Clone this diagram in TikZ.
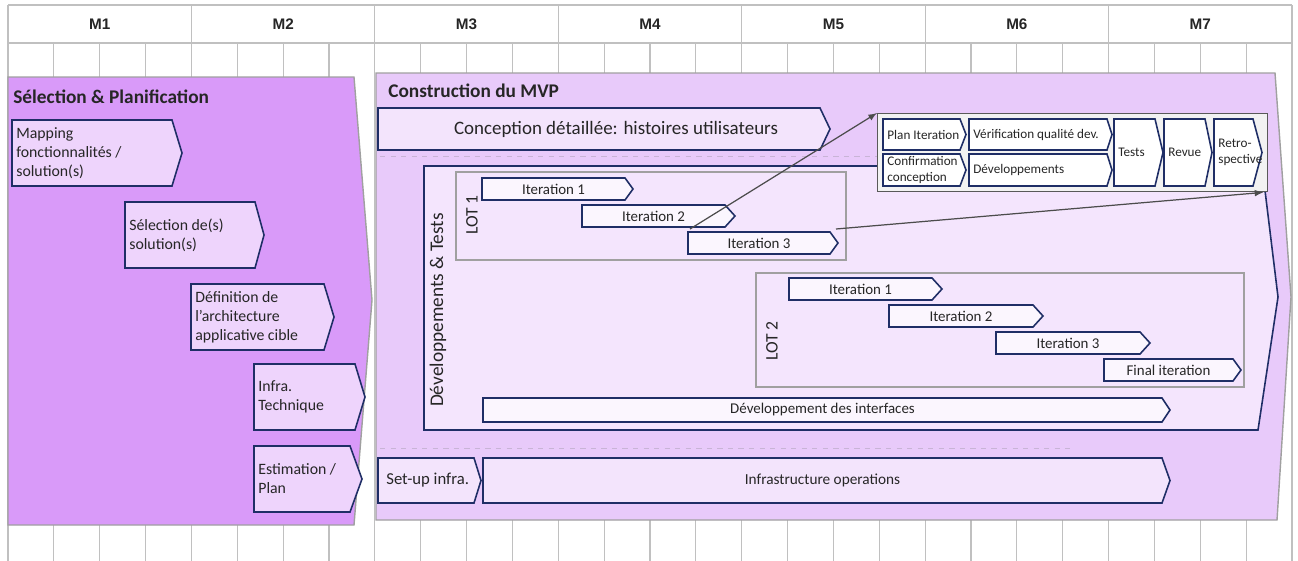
\documentclass[tikz,border=0pt]{standalone}
\usepackage{fontspec}
\setmainfont{Carlito}
\newfontfamily\gridfont{Liberation Sans}
\usepackage{tikz}
\usetikzlibrary{positioning,shapes,arrows}

\definecolor{gridgray}{HTML}{C0C0C0}
\definecolor{selfill}{HTML}{D99AF9}
\definecolor{mvpfill}{HTML}{E8CAFA}
\definecolor{devfill}{HTML}{F4E5FD}
\definecolor{chevfill}{HTML}{EED4FC}
\definecolor{iterfill}{HTML}{FBF6FE}
\definecolor{concfill}{HTML}{F3E4FC}
\definecolor{navy}{HTML}{1F2E66}
\definecolor{panelgray}{HTML}{A0A0A0}
\definecolor{insetfill}{HTML}{F2F2F2}
\definecolor{txt}{HTML}{262626}
\definecolor{dashgray}{HTML}{C8B4D6}

\tikzset{
  chevline/.style={draw=navy, line width=0.9pt, fill=chevfill},
  chevtext/.style={inner sep=0pt, align=left, text=txt, font=\fontsize{9}{10.8}\selectfont},
}

% chevron outline: x1, y1, x2, y2, tip
\newcommand{\chevpath}[5]{\draw[chevline] (#1,#2) -- (#3,#2) -- (#5,{(#2+#4)/2}) -- (#3,#4) -- (#1,#4) -- cycle;}
% left aligned / centred text
\newcommand{\chevl}[8][]{\chevpath{#3}{#4}{#5}{#6}{#7}\node[chevtext, anchor=west, #1] (#2) at ({#3+4},{(#4+#6)/2}) {#8};}
\newcommand{\chevc}[8][]{\chevpath{#3}{#4}{#5}{#6}{#7}\node[chevtext, align=center, #1] (#2) at ({(#3+#5)/2},{(#4+#6)/2}) {#8};}

\begin{document}
\begin{tikzpicture}[x=0.02cm, y=-0.02cm,
    month/.style={font=\gridfont\bfseries\fontsize{8.7}{10}\selectfont, text=txt},
    paneltitle/.style={anchor=west, inner sep=0pt, font=\bfseries\fontsize{11}{13}\selectfont, text=txt},
    lotbox/.style={draw=panelgray, line width=0.7pt},
    sidelbl/.style={rotate=90, inner sep=0pt, text=txt},
    insetbox/.style={draw=black!65, fill=insetfill, line width=0.8pt, inner sep=0pt},
    link/.style={draw=black!70, line width=0.7pt, -latex},
    sepline/.style={dashgray, dashed, line width=0.4pt}]
  \useasboundingbox (0,0) rectangle (1298,561);

  % calendar grid
  \foreach \w in {1,...,27}
    \draw[gridgray, line width=0.6pt] ({8+45.857*\w},43) -- ({8+45.857*\w},561);
  \foreach \m in {0,...,7}
    \draw[gridgray, line width=0.6pt] ({8+183.43*\m},5) -- ({8+183.43*\m},561);
  \draw[gridgray, line width=0.6pt] (8,5) -- (1292,5) (8,43) -- (1292,43);
  \foreach \m in {1,...,7}
    \node[month] (m\m) at ({8+183.43*(\m-0.5)},24) {M\m};

  % Selection & Planification
  \draw[panelgray, fill=selfill, line width=0.8pt] (8,77) -- (354,77) -- (372,300) -- (354,525) -- (8,525) -- cycle;
  \node[paneltitle] (selt) at (13,97) {Sélection \& Planification};
  \chevl{map}{12}{120}{172}{186}{182}{Mapping\\fonctionnalités /\\solution(s)}
  \chevl{sol}{125}{202}{255}{268}{264}{Sélection de(s)\\solution(s)}
  \chevl{archi}{191}{284}{324}{350}{334}{Définition de\\l’architecture\\applicative cible}
  \chevl{infra}{254}{364}{355}{430}{365}{Infra.\\Technique}
  \chevl{estim}{254}{446}{350}{512}{362}{Estimation /\\Plan}

  % Construction du MVP
  \draw[panelgray, fill=mvpfill, line width=0.8pt] (376,73) -- (1275,73) -- (1291,297) -- (1277,520) -- (376,520) -- cycle;
  \node[paneltitle] (mvpt) at (388,91) {Construction du MVP};
  \begin{scope}[chevline/.append style={fill=concfill}, chevtext/.append style={font=\fontsize{10.8}{12}\selectfont}]
    \chevc[xshift=0.34cm]{conc}{378}{108}{820}{150}{830}{Conception détaillée: histoires utilisateurs}
  \end{scope}
  \draw[sepline] (380,156) -- (877,156);

  % Developpements & Tests
  \draw[navy, fill=devfill, line width=0.9pt] (424,166) -- (1262,166) -- (1278,297) -- (1258,430) -- (424,430) -- cycle;
  \node[sidelbl, font=\fontsize{11}{13}\selectfont] (devt) at (438,310) {Développements \& Tests};
  \draw[lotbox] (456,172) rectangle (846,260);
  \node[sidelbl, font=\fontsize{10}{12}\selectfont] (lot1) at (472,215) {LOT 1};
  \draw[lotbox] (756,273) rectangle (1244,387);
  \node[sidelbl, font=\fontsize{10}{12}\selectfont] (lot2) at (772,341) {LOT 2};
  \begin{scope}[chevline/.append style={fill=iterfill}, chevtext/.append style={font=\fontsize{8.5}{10}\selectfont}]
    \chevc{l1it1}{482}{178}{625}{200}{633}{Iteration 1}
    \chevc{l1it2}{582}{205}{725}{227}{735}{Iteration 2}
    \chevc{l1it3}{688}{232}{830}{254}{838}{Iteration 3}
    \chevc{l2it1}{789}{278}{932}{300}{942}{Iteration 1}
    \chevc{l2it2}{889}{305}{1033}{327}{1043}{Iteration 2}
    \chevc{l2it3}{996}{332}{1140}{354}{1150}{Iteration 3}
    \chevc{l2fin}{1104}{359}{1233}{381}{1241}{Final iteration}
    \chevc{itf}{483}{398}{1162}{422}{1170}{Développement des interfaces}
  \end{scope}
  \draw[sepline] (380,448) -- (1075,448);

  % infrastructure
  \begin{scope}[chevline/.append style={fill=concfill}, chevtext/.append style={font=\fontsize{9.5}{11}\selectfont}]
    \chevl[xshift=0.08cm]{setup}{378}{458}{474}{503}{481}{Set-up infra.}
    \chevc[font=\fontsize{8.7}{10}\selectfont]{infops}{483}{458}{1162}{503}{1170}{Infrastructure operations}
  \end{scope}

  % iteration detail
  \node[insetbox, anchor=north west, minimum width=7.8cm, minimum height=1.56cm] (inset) at (877,113) {};
  \begin{scope}[chevline/.append style={fill=white}, chevtext/.append style={font=\fontsize{7.5}{9}\selectfont}]
    \chevl{plan}{883}{119}{960}{150}{966}{Plan Iteration}
    \chevl{conf}{883}{154}{960}{186}{966}{Confirmation\\conception}
    \chevl{verif}{969}{119}{1107}{150}{1112}{Vérification qualité dev.}
    \chevl{devs}{969}{154}{1107}{186}{1112}{Développements}
    \chevl{tests}{1114}{119}{1155}{186}{1163}{Tests}
    \chevl{revue}{1164}{119}{1205}{186}{1212}{Revue}
    \chevl{retro}{1214}{119}{1253}{186}{1262}{Retro-\\spective}
  \end{scope}

  \coordinate (zoom2) at (690,229);
  \coordinate (zoom3) at (836,229);
  \draw[link] (zoom2) -- (inset.north west);
  \draw[link] (zoom3) -- ([xshift=-0.1cm]inset.south east);
\end{tikzpicture}
\end{document}
